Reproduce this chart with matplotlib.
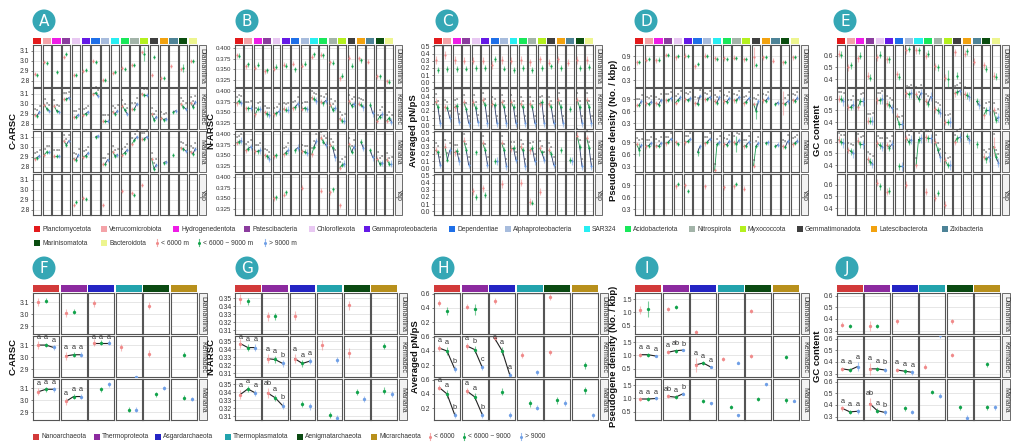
import matplotlib
matplotlib.use("Agg")
import matplotlib.pyplot as plt
from matplotlib.patches import Rectangle, Ellipse
from matplotlib.lines import Line2D

plt.rcParams['font.family'] = ['Liberation Sans', 'DejaVu Sans']

NA = None
E3 = (NA, NA, NA)

REGIONS_TOP = ["Diamantina", "Kermadec", "Mariana", "Yap"]
REGIONS_BOT = ["Diamantina", "Kermadec", "Mariana"]

BAC_PHYLA = ["Planctomycetota", "Verrucomicrobiota", "Hydrogenedentota", "Patescibacteria",
             "Chloroflexota", "Gammaproteobacteria", "Dependentiae", "Alphaproteobacteria",
             "SAR324", "Acidobacteriota", "Nitrospirota", "Myxococcota", "Gemmatimonadota",
             "Latescibacterota", "Zixibacteria", "Marinisomatota", "Bacteroidota"]
BAC_COLORS = ["#E31A1C", "#F4A3A8", "#EE1CE6", "#8B3C9E", "#E8C8F2", "#6419E6", "#1E6FE8",
              "#A7BCDD", "#27EEF2", "#18E85A", "#A3B4A9", "#B4F01E", "#3F3F3F", "#F2A20F",
              "#4D8397", "#0A4D0F", "#EDF58F"]
ARC_PHYLA = ["Nanoarchaeota", "Thermoproteota", "Asgardarchaeota", "Thermoplasmatota",
             "Aenigmatarchaeota", "Micrarchaeota"]
ARC_COLORS = ["#D23A3A", "#8C2A9F", "#2424C4", "#22A3AD", "#0B4A12", "#B8901C"]
DEPTH_TOP = ["< 6000 m", "< 6000 ~ 9000 m", "> 9000 m"]
DEPTH_BOT = ["< 6000", "< 6000 ~ 9000", "> 9000"]
DEPTH_COLORS = ["#F08A8A", "#12A34B", "#6F9FE6"]

# ---- C-ARSC (bacteria) ----
A_DIA = [(2.87, 2.86, NA), (2.99, 2.98, NA), (NA, 2.89, NA), (3.04, 3.07, NA), (2.86, 2.86, NA),
         (2.90, 2.91, NA), (3.00, 2.99, NA), (2.81, 2.81, NA), (2.88, 2.89, NA), (2.93, 2.92, NA),
         (2.96, 2.96, NA), (3.09, 3.07, NA), (2.86, 3.04, NA), (2.83, 2.83, NA), (2.95, NA, NA),
         (2.92, 2.93, NA), (3.00, 3.00, NA)]
A_KER = [(2.89, 2.88, 2.92), (2.99, 2.95, 2.93), (2.98, 2.93, 2.92), (3.05, 3.05, 3.06),
         (2.87, 2.87, 2.89), (2.89, 2.90, 2.92), (3.10, 3.11, 3.08), (2.83, 2.83, 2.83),
         (2.92, 2.90, 2.93), (2.98, 2.94, 2.90), (2.95, 2.95, 3.00), (3.10, 3.09, 3.09),
         (2.90, 2.84, 2.87), (2.86, 2.84, 2.85), (NA, 2.92, 2.93), (3.00, 2.97, 2.95),
         (3.01, 2.97, 3.02)]
A_MAR = [(2.88, 2.89, 2.91), (2.92, 2.95, 2.95), (2.91, 2.91, 2.91), (3.06, 3.02, 3.06),
         (2.88, 2.87, 2.92), (2.90, 2.91, 2.94), (NA, 3.10, 3.11), (2.83, 2.83, 2.87),
         (2.95, 2.91, 2.92), (2.92, 2.94, 2.97), (3.03, 3.07, 3.10), (3.08, 3.08, 3.10),
         (2.88, 2.78, 2.82), (NA, 2.84, 2.85), (NA, 2.92, NA), (2.99, 2.98, 2.96),
         (2.95, 2.93, 2.98)]
A_YAP = [E3, E3, E3, E3, (2.85, 2.88, NA), (2.92, 2.91, NA), E3, (2.85, NA, NA), E3,
         (2.99, NA, NA), (2.97, 2.95, NA), (3.05, NA, NA), E3, E3, E3, E3, E3]

# ---- N-ARSC (bacteria) ----
B_DIA = [(0.383, 0.382, NA), (0.357, 0.362, NA), (0.354, 0.361, NA), (0.345, 0.348, NA),
         (0.351, 0.356, NA), (0.361, 0.359, NA), (0.363, 0.350, NA), (0.358, 0.363, NA),
         (0.380, 0.386, NA), (0.385, 0.383, NA), (0.367, 0.366, NA), (0.329, 0.335, NA),
         (0.378, 0.359, NA), (0.376, 0.372, NA), (0.368, NA, NA), (0.334, 0.334, NA),
         (0.322, 0.320, NA)]
B_KER = [(0.372, 0.377, 0.372), (0.360, 0.360, 0.360), (0.345, 0.358, 0.358), (0.350, 0.346, 0.344),
         (0.345, 0.348, 0.352), (0.358, 0.356, 0.356), (0.360, 0.362, 0.370), (0.358, 0.360, 0.358),
         (0.385, 0.382, 0.378), (0.375, 0.372, 0.378), (0.368, 0.356, 0.360), (0.335, 0.330, 0.330),
         (0.376, 0.366, 0.370), (0.370, 0.368, 0.362), (NA, 0.368, 0.348), (0.330, 0.340, 0.345),
         (0.330, 0.336, 0.328)]
B_MAR = [(0.380, 0.382, 0.385), (0.362, 0.366, 0.370), (0.360, 0.360, 0.362), (0.350, 0.348, 0.342),
         (0.348, 0.350, NA), (0.352, 0.356, 0.362), (NA, 0.362, 0.368), (0.360, 0.358, 0.356),
         (0.352, 0.370, 0.384), (0.392, 0.382, 0.375), (0.375, 0.368, 0.345), (0.320, 0.327, 0.330),
         (0.376, 0.358, 0.370), (NA, 0.382, 0.368), (NA, 0.362, 0.345), (0.342, 0.330, 0.332),
         (0.340, 0.330, 0.330)]
B_YAP = [E3, E3, E3, E3, (0.350, 0.353, NA), (0.358, 0.365, NA), E3, (0.375, NA, NA), E3,
         (0.368, NA, NA), (0.365, 0.372, NA), (0.333, NA, NA), E3, E3, E3, E3, E3]

# ---- Averaged pN/pS (bacteria) ----
C_DIA = [(0.31, 0.17, NA), (0.38, 0.18, NA), (0.31, 0.18, NA), (0.30, 0.19, NA), (0.30, 0.20, NA),
         (0.30, 0.20, NA), (0.24, 0.32, NA), (0.31, 0.19, NA), (0.30, 0.17, NA), (0.31, 0.20, NA),
         (0.28, 0.17, NA), (0.32, 0.20, NA), (0.27, 0.22, NA), (0.32, 0.20, NA), (0.27, NA, NA),
         (0.31, 0.20, NA), (0.31, 0.21, NA)]
C_KER = [(0.33, 0.25, 0.03), (0.25, 0.24, 0.10), (0.25, 0.27, 0.05), (0.32, 0.22, 0.03),
         (0.32, 0.24, 0.04), (0.35, 0.28, 0.03), (0.30, 0.28, 0.03), (0.32, 0.25, 0.03),
         (0.32, 0.25, 0.03), (0.30, 0.25, 0.03), (0.30, 0.25, 0.03), (0.30, 0.32, 0.03),
         (0.30, 0.25, 0.03), (0.35, 0.25, 0.03), (NA, 0.23, NA), (0.35, 0.25, 0.03),
         (0.35, 0.25, 0.03)]
C_MAR = [(0.25, 0.22, 0.05), (0.30, 0.12, 0.25), (0.22, 0.24, 0.10), (0.38, 0.25, 0.05),
         (NA, 0.22, NA), (0.35, 0.25, 0.05), (NA, 0.10, 0.10), (0.35, 0.25, 0.03),
         (0.27, 0.28, 0.12), (0.30, 0.25, 0.03), (0.25, 0.28, 0.10), (0.28, 0.22, 0.12),
         (0.25, 0.20, 0.05), (NA, 0.25, NA), (NA, 0.11, 0.10), (0.45, 0.30, 0.03),
         (0.42, 0.28, 0.03)]
C_YAP = [E3, E3, E3, E3, (0.28, 0.20, NA), (0.32, 0.23, NA), E3, (0.38, NA, NA), E3,
         (0.40, NA, NA), (0.13, 0.12, NA), (0.27, NA, NA), E3, E3, E3, E3, E3]

# ---- Pseudogene density (bacteria) ----
D_DIA = [(0.75, 0.76, NA), (0.82, 0.83, NA), (0.80, 0.82, NA), (0.93, 0.92, NA), (0.87, 0.90, NA),
         (0.91, 0.91, NA), (0.65, 0.70, NA), (0.91, 0.90, NA), (0.85, 0.84, NA), (0.85, 0.84, NA),
         (0.86, 0.86, NA), (0.83, 0.84, NA), (0.88, 0.68, NA), (0.88, 0.89, NA), (0.79, NA, NA),
         (0.75, 0.77, NA), (0.88, 0.88, NA)]
D_KER = [(0.76, 0.76, 0.85), (0.80, 0.78, 0.84), (0.80, 0.77, 0.88), (0.88, 0.88, 0.92),
         (0.82, 0.88, 0.95), (0.90, 0.88, 0.92), (0.80, 0.78, 0.98), (0.90, 0.90, 0.95),
         (0.85, 0.82, 0.95), (0.85, 0.84, 0.92), (0.87, 0.87, 0.95), (0.80, 0.84, 0.92),
         (0.78, 0.62, 0.85), (0.88, 0.86, 0.94), (NA, 0.78, 0.82), (0.80, 0.78, 0.85),
         (0.88, 0.86, 0.94)]
D_MAR = [(0.85, 0.72, 0.83), (0.80, 0.82, 0.88), (0.82, 0.80, 0.88), (0.88, 0.90, 0.98),
         (0.90, 0.86, NA), (0.90, 0.92, 0.98), (NA, 0.65, 0.80), (0.88, 0.90, 0.98),
         (0.20, 0.85, 0.90), (0.85, 0.84, 0.92), (0.90, 0.85, 0.95), (0.80, 0.82, 0.90),
         (0.32, 0.80, 0.88), (NA, 0.88, 0.90), (NA, 0.80, 0.84), (0.80, 0.78, 0.92),
         (0.85, 0.88, 0.94)]
D_YAP = [E3, E3, E3, E3, (0.88, 0.92, NA), (0.90, 0.75, NA), E3, (0.88, NA, NA), E3,
         (0.85, NA, NA), (0.88, 0.92, NA), (0.82, NA, NA), E3, E3, E3, E3, E3]

# ---- GC content (bacteria) ----
E_DIA = [(0.62, 0.61, NA), (0.50, 0.52, NA), (0.58, 0.60, NA), (0.43, 0.41, NA), (0.59, 0.61, NA),
         (0.57, 0.57, NA), (0.44, 0.42, NA), (0.65, 0.66, NA), (0.65, 0.65, NA), (0.60, 0.62, NA),
         (0.51, 0.50, NA), (0.41, 0.40, NA), (0.63, 0.43, NA), (0.62, 0.64, NA), (0.55, NA, NA),
         (0.52, 0.49, NA), (0.43, 0.42, NA)]
E_KER = [(0.60, 0.60, 0.58), (0.53, 0.53, 0.55), (0.53, 0.58, 0.58), (0.41, 0.41, 0.41),
         (0.59, 0.59, 0.60), (0.56, 0.55, 0.52), (0.45, 0.38, 0.38), (0.65, 0.64, 0.65),
         (0.64, 0.60, 0.65), (0.58, 0.56, 0.62), (0.51, 0.50, 0.48), (0.40, 0.40, 0.40),
         (0.65, 0.66, 0.67), (0.64, 0.63, 0.62), (NA, 0.58, 0.55), (0.46, 0.50, 0.50),
         (0.50, 0.42, 0.44)]
E_MAR = [(0.62, 0.60, 0.59), (0.53, 0.52, 0.50), (0.61, 0.58, 0.58), (0.45, 0.43, 0.41),
         (0.59, 0.57, 0.56), (0.57, 0.55, 0.58), (NA, 0.39, 0.39), (0.63, 0.60, 0.62),
         (0.40, 0.62, 0.63), (0.64, 0.63, 0.63), (0.60, 0.53, 0.47), (0.44, 0.40, 0.40),
         (0.60, 0.63, 0.64), (NA, 0.65, 0.62), (NA, 0.58, NA), (0.47, 0.45, 0.47),
         (0.56, 0.47, 0.42)]
E_YAP = [E3, E3, E3, E3, (0.62, 0.59, NA), (0.54, 0.55, NA), E3, (0.60, NA, NA), E3,
         (0.54, NA, NA), (0.49, 0.53, NA), (0.43, NA, NA), E3, E3, E3, E3, E3]

# ---- archaea panels ----
F_DIA = [(3.10, 3.11, NA), (3.01, 3.02, NA), (3.09, NA, NA), E3, (3.07, NA, NA), E3]
F_KER = [(3.10, 3.10, 3.08), (3.01, 3.02, 3.02), (3.12, 3.12, 3.12), (3.08, NA, 2.84), (3.03, NA, NA), (NA, 3.02, NA)]
F_MAR = [(3.07, 3.09, 3.09), (2.99, 3.03, 3.03), (NA, 3.09, 3.13), (NA, 2.92, 2.92), (NA, 3.05, 3.10), (NA, 3.02, 3.01)]

G_DIA = [(0.349, 0.346, NA), (0.327, 0.327, NA), (0.328, NA, NA), E3, (0.341, NA, NA), E3]
G_KER = [(0.347, 0.342, 0.342), (0.328, 0.327, 0.322), (0.328, 0.322, 0.325), (0.345, NA, 0.326), (0.335, NA, NA), (NA, 0.344, NA)]
G_MAR = [(0.337, 0.344, 0.339), (0.339, 0.333, 0.323), (NA, 0.325, 0.322), (NA, 0.311, 0.307), (NA, 0.340, 0.331), (NA, 0.342, 0.338)]

H_DIA = [(0.47, 0.36, NA), (0.42, 0.38, NA), (0.50, NA, NA), E3, (0.55, NA, NA), E3]
H_KER = [(0.44, 0.40, 0.15), (0.47, 0.42, 0.17), (0.58, 0.40, 0.06), (0.34, NA, 0.10), (0.38, NA, NA), (NA, 0.20, NA)]
H_MAR = [(0.49, 0.40, 0.11), (0.44, 0.36, 0.11), (NA, 0.43, 0.11), (NA, 0.27, 0.21), (NA, 0.31, 0.27), (NA, 0.45, 0.10)]

I_DIA = [(1.10, 1.13, NA), (1.13, 1.20, NA), (0.28, NA, NA), E3, (1.05, NA, NA), E3]
I_KER = [(1.03, 1.03, 0.98), (1.12, 1.18, 1.20), (0.65, 0.72, 0.57), (0.88, NA, 0.73), (0.98, NA, NA), (NA, 0.95, NA)]
I_MAR = [(0.98, 0.98, 1.00), (1.08, 1.05, 1.18), (NA, 0.90, 0.82), (NA, 0.68, 0.37), (NA, 0.97, 1.53), (NA, 0.93, 0.92)]

J_DIA = [(0.35, 0.34, NA), (0.34, 0.34, NA), (0.38, NA, NA), E3, (0.38, NA, NA), E3]
J_KER = [(0.34, 0.33, 0.36), (0.34, 0.34, 0.33), (0.33, 0.32, 0.31), (0.36, NA, 0.63), (0.46, NA, NA), (NA, 0.38, NA)]
J_MAR = [(0.37, 0.34, 0.345), (0.41, 0.35, 0.335), (NA, 0.37, 0.34), (NA, 0.51, 0.48), (NA, 0.38, 0.29), (NA, 0.38, 0.38)]

# typical half-widths of the error bars per depth group, and the larger ones
ERR = {"A": (0.02, 0.02, 0.02), "B": (0.006, 0.006, 0.008), "C": (0.05, 0.04, 0.05),
       "D": (0.06, 0.05, 0.06), "E": (0.03, 0.03, 0.04), "F": (0.03, 0.02, 0.02),
       "G": (0.006, 0.004, 0.004), "H": (0.04, 0.05, 0.04), "I": (0.08, 0.08, 0.05),
       "J": (0.02, 0.02, 0.02)}
BIG_ERR = {"A": {(0, 11, 1): 0.07, (0, 15, 1): 0.04},
           "D": {(0, 12, 0): 0.25, (1, 12, 1): 0.2, (1, 15, 0): 0.3, (2, 0, 1): 0.15,
                 (2, 10, 1): 0.2, (2, 6, 1): 0.1},
           "E": {(0, 11, 1): 0.08, (2, 16, 0): 0.08},
           "F": {(1, 3, 2): 0.0},
           "H": {(0, 1, 1): 0.08, (0, 0, 1): 0.06},
           "I": {(0, 0, 1): 0.3, (0, 0, 0): 0.15, (1, 2, 0): 0.25},
           "J": {(0, 1, 0): 0.04, (1, 0, 2): 0.04, (1, 1, 0): 0.05, (2, 1, 0): 0.05}}

# significance letters (archaea panels)
F_LET = {(1, 0): ("a", "a", "a"), (1, 1): ("a", "a", "a"), (1, 2): ("a", "a", "a"),
         (2, 0): ("a", "a", "a"), (2, 1): ("a", "a", "a")}
G_LET = {(1, 0): ("a", "a", "a"), (1, 1): ("a", "a", "b"), (1, 2): ("a", "a", "a"),
         (2, 0): ("a", "a", "a"), (2, 1): ("ab", "a", "b")}
H_LET = {(1, 0): ("a", "a", "b"), (1, 1): ("a", "b", "c"), (1, 2): ("a", "a", "a"),
         (2, 0): ("a", "a", "b"), (2, 1): ("a", "a", "b")}
I_LET = {(1, 0): ("a", "a", "a"), (1, 1): ("a", "ab", "b"), (1, 2): ("a", "a", "a"),
         (2, 0): ("a", "a", "a"), (2, 1): ("ab", "a", "b")}
J_LET = {(1, 0): ("a", "a", "a"), (1, 1): ("a", "a", "b"), (1, 2): ("a", "a", "a"),
         (2, 0): ("a", "a", "a"), (2, 1): ("ab", "a", "b")}

W, H = 1013, 448
fig = plt.figure(figsize=(W / 100, H / 100), dpi=100)
fig.patch.set_facecolor("white")


def fx(x):
    return x / W


def fy(y):
    return 1 - y / H


def rect(x0, y0, x1, y1, fc, ec="none", lw=0.0):
    fig.add_artist(Rectangle((fx(x0), fy(y1)), (x1 - x0) / W, (y1 - y0) / H,
                             transform=fig.transFigure, facecolor=fc, edgecolor=ec, linewidth=lw))


def badge(x, y, letter):
    fig.add_artist(Ellipse((fx(x), fy(y)), 23 / W, 23 / H, transform=fig.transFigure,
                           facecolor="#35A7B5", edgecolor="none"))
    fig.text(fx(x), fy(y + 0.5), letter, color="white", fontsize=11, ha="center", va="center",
             family="DejaVu Sans")


def panel(key, xs, rows, strip, colors, regions, data, ylim, ticks, fmt, ylabel, lx,
          letters=None, top=True, tsize=4.9):
    x0, x1 = xs
    n = len(colors)
    gap = 1.6
    cw = (x1 - x0 - gap * (n - 1)) / n
    err = ERR[key]
    big = BIG_ERR.get(key, {})
    ms = 1.6 if top else 2.4
    for j, c in enumerate(colors):
        cx = x0 + j * (cw + gap)
        rect(cx, strip[0], cx + cw, strip[1], c)
    for i, (ry0, ry1) in enumerate(rows):
        for j in range(n):
            cx = x0 + j * (cw + gap)
            ax = fig.add_axes([fx(cx), fy(ry1), cw / W, (ry1 - ry0) / H])
            ax.set_xlim(0.3, 3.7)
            ax.set_ylim(ylim)
            ax.set_xticks([])
            ax.set_yticks(ticks)
            ax.grid(axis="y", color="#DCDCDC", lw=0.5)
            ax.set_axisbelow(True)
            if j == 0:
                ax.set_yticklabels([fmt % t for t in ticks])
                ax.tick_params(axis="y", length=1.5, width=0.5, pad=1, labelsize=tsize,
                               labelcolor="#333333", color="#555555")
            else:
                ax.set_yticklabels([])
                ax.tick_params(axis="y", length=0)
            for s in ax.spines.values():
                s.set_color("#555555")
                s.set_linewidth(0.8)
            vals = data[i][j]
            pts = [(k + 1, v) for k, v in enumerate(vals) if v is not None]
            # lines between depth groups
            if top and i in (1, 2) and len(pts) >= 2:
                for (xa, ya), (xb, yb) in zip(pts[:-1], pts[1:]):
                    col = "#1E9A50" if xb == 2 else "#2B3A67"
                    ax.plot([xa, xb], [ya, yb], color=col, lw=0.6, zorder=3)
            if not top and letters and (i, j) in letters:
                ax.plot([p[0] for p in pts], [p[1] for p in pts], color="#222222", lw=0.8, zorder=3)
            span = ylim[1] - ylim[0]
            for k, v in enumerate(vals):
                if v is None:
                    continue
                e = big.get((i, j, k), err[k])
                ax.plot([k + 1, k + 1], [v - e, v + e], color=DEPTH_COLORS[k], lw=0.8,
                        alpha=0.55, zorder=2, solid_capstyle="butt")
                ax.plot(k + 1, v, "o", ms=ms, color=DEPTH_COLORS[k], mec="none", zorder=4)
                if top and i in (1, 2) and len(pts) == 3:
                    ax.text(k + 1, v + e + 0.04 * span, "a", fontsize=2.8, color="#444444",
                            ha="center", va="bottom", zorder=5)
                if not top and letters and (i, j) in letters:
                    ax.text(k + 1, min(v + e + 0.03 * span, ylim[1] - 0.12 * span),
                            letters[(i, j)][k], fontsize=5.2, color="#333333",
                            ha="center", va="bottom", zorder=5)
        sw = 7 if top else 8
        rect(x1 + 1.5, ry0, x1 + 1.5 + sw, ry1, "#F2F2F2", "#555555", 0.6)
        fig.text(fx(x1 + 1.5 + sw / 2), fy((ry0 + ry1) / 2), regions[i], rotation=270,
                 ha="center", va="center", fontsize=5, color="#333333")
    ycen = (rows[0][0] + rows[-1][1]) / 2
    fig.text(fx(lx), fy(ycen), ylabel, rotation=90, ha="center", va="center",
             fontsize=6.8, fontweight="bold", color="#111111")


TOP_ROWS = [(45, 86.5), (88, 129.5), (131, 172.5), (174, 215.5)]
BOT_ROWS = [(293, 334), (336, 377), (379, 420)]
TOP_STRIP = (38, 44)
BOT_STRIP = (285, 292)

panel("A", (33, 197), TOP_ROWS, TOP_STRIP, BAC_COLORS, REGIONS_TOP,
      [A_DIA, A_KER, A_MAR, A_YAP], (2.74, 3.16), [2.8, 2.9, 3.0, 3.1], "%.1f", "C-ARSC", 13)
panel("B", (235, 393), TOP_ROWS, TOP_STRIP, BAC_COLORS, REGIONS_TOP,
      [B_DIA, B_KER, B_MAR, B_YAP], (0.309, 0.408), [0.325, 0.35, 0.375, 0.4], "%.3f", "N-ARSC",
      210.5, tsize=4.4)
panel("C", (434, 593), TOP_ROWS, TOP_STRIP, BAC_COLORS, REGIONS_TOP,
      [C_DIA, C_KER, C_MAR, C_YAP], (-0.06, 0.52), [0.0, 0.1, 0.2, 0.3, 0.4, 0.5], "%.1f",
      "Averaged pN/pS", 413)
panel("D", (635, 799), TOP_ROWS, TOP_STRIP, BAC_COLORS, REGIONS_TOP,
      [D_DIA, D_KER, D_MAR, D_YAP], (0.15, 1.18), [0.3, 0.6, 0.9], "%.1f",
      "Pseudogene density (No. / kbp)", 613)
panel("E", (837, 1000), TOP_ROWS, TOP_STRIP, BAC_COLORS, REGIONS_TOP,
      [E_DIA, E_KER, E_MAR, E_YAP], (0.335, 0.695), [0.4, 0.5, 0.6], "%.1f", "GC content", 817)

panel("F", (33, 197), BOT_ROWS, BOT_STRIP, ARC_COLORS, REGIONS_BOT,
      [F_DIA, F_KER, F_MAR], (2.836, 3.175), [2.9, 3.0, 3.1], "%.1f", "C-ARSC", 13, F_LET,
      top=False)
panel("G", (235, 397), BOT_ROWS, BOT_STRIP, ARC_COLORS, REGIONS_BOT,
      [G_DIA, G_KER, G_MAR], (0.305, 0.3565), [0.31, 0.32, 0.33, 0.34, 0.35], "%.2f", "N-ARSC",
      211, G_LET, top=False)
panel("H", (434, 598), BOT_ROWS, BOT_STRIP, ARC_COLORS, REGIONS_BOT,
      [H_DIA, H_KER, H_MAR], (0.035, 0.61), [0.2, 0.4, 0.6], "%.1f", "Averaged pN/pS", 415,
      H_LET, top=False)
panel("I", (635, 799), BOT_ROWS, BOT_STRIP, ARC_COLORS, REGIONS_BOT,
      [I_DIA, I_KER, I_MAR], (0.2, 1.725), [0.5, 1.0, 1.5], "%.1f",
      "Pseudogene density (No. / kbp)", 613, I_LET, top=False)
panel("J", (837, 1000), BOT_ROWS, BOT_STRIP, ARC_COLORS, REGIONS_BOT,
      [J_DIA, J_KER, J_MAR], (0.27, 0.623), [0.3, 0.4, 0.5, 0.6], "%.1f", "GC content", 817,
      J_LET, top=False)

for (bx, by), lt in zip([(44, 21), (247, 21), (447, 21), (646, 21), (845, 21),
                         (44, 268), (247, 268), (443, 268), (647, 268), (847, 268)],
                        "ABCDEFGHIJ"):
    badge(bx, by, lt)


def legend_square(x, y, color, label, size=6):
    rect(x, y - size / 2, x + size, y + size / 2, color)
    fig.text(fx(x + size + 2), fy(y), label, fontsize=4.8, va="center", ha="left",
             color="#333333")


def legend_depth(x, y, color, label, h=7):
    fig.add_artist(Line2D([fx(x), fx(x)], [fy(y - h / 2), fy(y + h / 2)], transform=fig.transFigure,
                          color=color, lw=0.8, alpha=0.7))
    fig.add_artist(Line2D([fx(x)], [fy(y)], transform=fig.transFigure, marker="o", ms=2.2,
                          color=color, mec="none"))
    fig.text(fx(x + 4), fy(y), label, fontsize=4.8, va="center", ha="left", color="#333333")


row1_x = [34, 101, 173, 244, 309, 364, 449, 505, 584, 625, 689, 740, 797, 871, 942]
for x, name, c in zip(row1_x, BAC_PHYLA[:15], BAC_COLORS[:15]):
    legend_square(x, 229, c, name)
for x, name, c in zip([34, 101], BAC_PHYLA[15:], BAC_COLORS[15:]):
    legend_square(x, 243, c, name)
for x, name, c in zip([157, 199, 265], DEPTH_TOP, DEPTH_COLORS):
    legend_depth(x, 243, c, name)

for x, name, c in zip([33, 94, 155, 225, 297, 371], ARC_PHYLA, ARC_COLORS):
    legend_square(x, 436.5, c, name)
for x, name, c in zip([430, 464, 521], DEPTH_BOT, DEPTH_COLORS):
    legend_depth(x, 436.5, c, name)

fig.savefig("out.png", dpi=100)
